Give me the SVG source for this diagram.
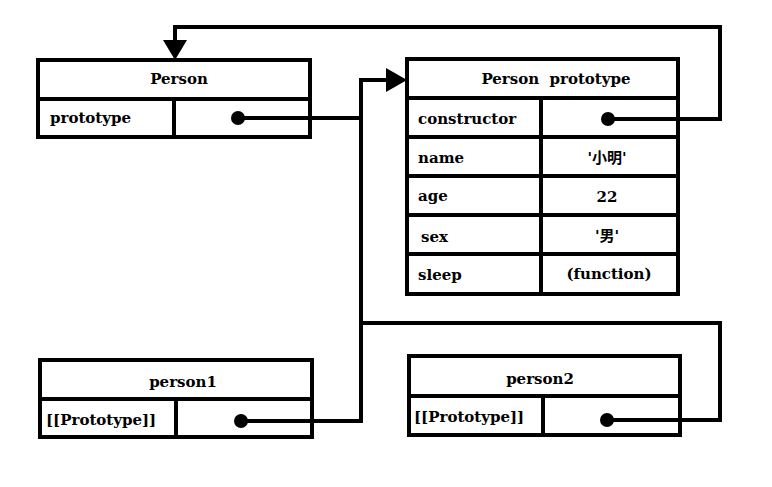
<svg xmlns="http://www.w3.org/2000/svg" width="772" height="487" viewBox="0 0 772 487">
<style>
.b{fill:#fff;stroke:#000;stroke-width:4}
.l{stroke:#000;stroke-width:4;fill:none}
.c{stroke:#000;stroke-width:4;fill:none}
text{font-family:"DejaVu Serif","Liberation Serif","Noto Sans CJK SC",serif;font-weight:bold;font-size:15px;fill:#000}
.m{text-anchor:middle}
</style>
<rect width="772" height="487" fill="#fff"/>
<g id="Person">
<rect class="b" x="38" y="60" width="272" height="77"/>
<line class="l" x1="38" y1="99" x2="310" y2="99"/>
<line class="l" x1="174" y1="99" x2="174" y2="137"/>
<text class="m" x="179" y="84">Person</text>
<text x="50" y="123">prototype</text>
</g>
<g id="PersonPrototype">
<rect class="b" x="407" y="59" width="271" height="235"/>
<line class="l" x1="407" y1="98" x2="678" y2="98"/>
<line class="l" x1="407" y1="137" x2="678" y2="137"/>
<line class="l" x1="407" y1="176" x2="678" y2="176"/>
<line class="l" x1="407" y1="215" x2="678" y2="215"/>
<line class="l" x1="407" y1="254" x2="678" y2="254"/>
<line class="l" x1="541" y1="98" x2="541" y2="294"/>
<text class="m" x="556" y="84" xml:space="preserve">Person  prototype</text>
<text x="418" y="124">constructor</text>
<text x="418" y="163">name</text>
<text class="m" x="607" y="163">'小明'</text>
<text x="418" y="201">age</text>
<text class="m" x="607" y="202">22</text>
<text x="421" y="242">sex</text>
<text class="m" x="607" y="241">'男'</text>
<text x="418" y="280">sleep</text>
<text class="m" x="609" y="279">(function)</text>
</g>
<g id="person1">
<rect class="b" x="40" y="360" width="272" height="77"/>
<line class="l" x1="40" y1="399" x2="312" y2="399"/>
<line class="l" x1="176" y1="399" x2="176" y2="437"/>
<text class="m" x="183" y="387">person1</text>
<text x="46" y="425">[[Prototype]]</text>
</g>
<g id="person2">
<rect class="b" x="409" y="356" width="271" height="79"/>
<line class="l" x1="409" y1="396" x2="680" y2="396"/>
<line class="l" x1="543" y1="396" x2="543" y2="435"/>
<text class="m" x="540" y="384">person2</text>
<text x="414" y="422">[[Prototype]]</text>
</g>
<g id="connectors">
<circle cx="238" cy="118" r="7"/>
<circle cx="608" cy="119" r="7"/>
<circle cx="241" cy="421" r="7"/>
<circle cx="607" cy="420" r="7"/>
<polyline class="c" points="238,118 361,118"/>
<polyline class="c" points="241,421 361,421 361,80 390,80"/>
<path d="M386,68 L407,80 L386,92z"/>
<polyline class="c" points="361,323 720,323 720,420 607,420"/>
<polyline class="c" points="608,119 720,119 720,27 175,27 175,42"/>
<path d="M163,40 L175,60 L187,40z"/>
</g>
</svg>
